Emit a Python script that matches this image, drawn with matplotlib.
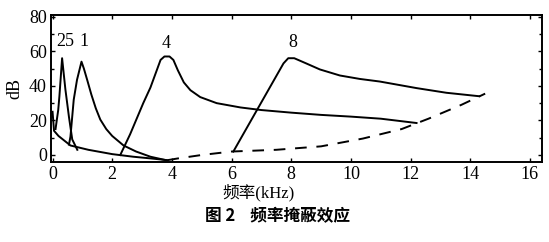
import matplotlib
matplotlib.use("Agg")
import matplotlib.pyplot as plt
from matplotlib.ticker import MultipleLocator

# threshold in quiet, solid part (kHz, dB)
thr_f = [0.0, 0.05, 0.2, 0.6, 1.2, 2.0, 2.7, 3.3, 3.85]
thr_db = [25, 14, 11, 5.5, 3, 0.5, -1, -2, -3]

# threshold continued, dashed part
thr2_f = [3.85, 4.2, 5.0, 6.0, 7.5, 9.0, 10.4, 11.7, 12.6, 13.7, 14.5]
thr2_db = [-3, -2, 0, 2, 3, 5, 9.5, 15, 21, 29, 35.5]

# masking curves for maskers at 0.25, 1, 4, 8 kHz
m025_f = [0.1, 0.19, 0.23, 0.32, 0.43, 0.55, 0.66, 0.83]
m025_db = [15, 26, 34, 56, 38, 22, 9, 3]

m1_f = [0.55, 0.6, 0.64, 0.71, 0.82, 0.97, 1.05, 1.16, 1.3, 1.45, 1.6, 1.8, 2.0, 2.38, 2.8, 3.28, 3.8]
m1_db = [6, 10.6, 18.4, 32, 43.5, 54, 50, 43.5, 35, 27, 20.5, 15, 11, 5.5, 2, -1, -3]

m4_f = [2.27, 2.6, 3.04, 3.28, 3.62, 3.75, 3.92, 4.05, 4.2, 4.4, 4.62, 4.95, 5.5, 6.3, 7.0, 8.0, 9.0, 10.0, 11.0, 12.2]
m4_db = [0, 12, 30, 39, 55, 57, 57, 55, 49, 42, 37.5, 33.5, 30, 27.5, 26, 24.5, 23.2, 22.2, 21, 18.5]

m8_f = [6.06, 7.74, 7.9, 8.1, 8.5, 8.96, 9.63, 10.3, 10.97, 12.2, 13.2, 14.3]
m8_db = [2, 53, 56, 56, 53, 49.5, 46, 44, 42.5, 38.7, 36, 34]

labels = ["25", "1", "4", "8"]
label_x = [0.43, 1.04, 3.81, 8.06]
label_y = [65.5, 65.5, 64.5, 65]

serif = ["Liberation Serif", "Noto Sans CJK SC"]
cjk = ["Noto Sans CJK SC", "Liberation Serif"]

fig = plt.figure(figsize=(5.49, 2.42), dpi=100)
ax = fig.add_axes([0.093, 0.331, 0.894, 0.607])

lw = 1.4
ax.plot(thr_f, thr_db, color="black", lw=lw)
ax.plot(thr2_f, thr2_db, color="black", lw=lw, dashes=(6, 5))
for f, db in [(m025_f, m025_db), (m1_f, m1_db), (m4_f, m4_db), (m8_f, m8_db)]:
    ax.plot(f, db, color="black", lw=lw)

for t, x, y in zip(labels, label_x, label_y):
    ax.text(x, y, t, ha="center", va="center", fontsize=13, family=serif)

ax.set_xlim(-0.05, 16.4)
ax.set_ylim(-4, 81)
ax.xaxis.set_major_locator(MultipleLocator(2))
ax.yaxis.set_major_locator(MultipleLocator(20))
ax.yaxis.set_minor_locator(MultipleLocator(10))
ax.tick_params(which="both", direction="in", top=True, right=True,
               length=3, width=1, pad=3, labelsize=13)
ax.tick_params(which="minor", length=2)
for lab in ax.get_xticklabels() + ax.get_yticklabels():
    lab.set_family(serif)
for sp in ax.spines.values():
    sp.set_linewidth(1.4)

ax.set_ylabel("dB", fontsize=13, family=serif, labelpad=4)

fig.text(0.47, 0.205, "频率(kHz)", ha="center", va="center", fontsize=12, family=serif)
fig.text(0.505, 0.105, "图 2    频率掩蔽效应", ha="center", va="center",
         fontsize=12, family=cjk, fontweight="bold")

fig.savefig("out.png", dpi=100)
